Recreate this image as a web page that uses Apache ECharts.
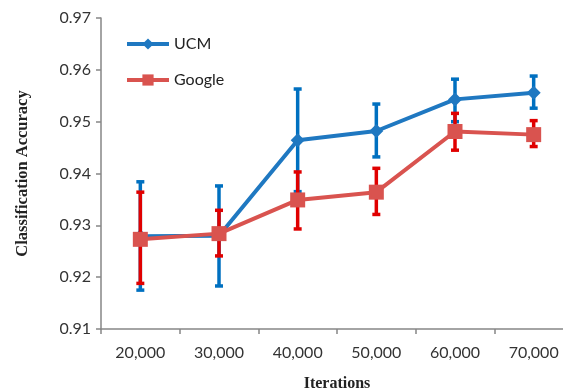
<!DOCTYPE html>
<html>
<head>
<meta charset="utf-8">
<script src="https://cdn.jsdelivr.net/npm/echarts@6/dist/echarts.min.js"></script>
<style>
  html, body { margin: 0; padding: 0; background: #fff; }
  #chart { width: 563px; height: 392px; }
</style>
</head>
<body>
<div id="chart"></div>
<script>
// 迭代次数
var iterations = ["20,000", "30,000", "40,000", "50,000", "60,000", "70,000"];
// UCM 准确率及误差范围
var ucmAcc = [0.9279, 0.9280, 0.9464, 0.9482, 0.9543, 0.9556];
var ucmLow = [0.9175, 0.9183, 0.9365, 0.9432, 0.9500, 0.9526];
var ucmHigh = [0.9384, 0.9376, 0.9563, 0.9534, 0.9582, 0.9588];
// Google 准确率及误差范围
var googleAcc = [0.9273, 0.9284, 0.9349, 0.9364, 0.9481, 0.9475];
var googleLow = [0.9188, 0.9241, 0.9293, 0.9321, 0.9445, 0.9452];
var googleHigh = [0.9364, 0.9329, 0.9403, 0.9410, 0.9516, 0.9502];

var ucmColor = "#1f78c1";
var ucmBarColor = "#0070c0";
var googleColor = "#d9534f";
var googleBarColor = "#e00000";

function errData(low, high) {
  return iterations.map(function (c, i) { return [i, low[i], high[i]]; });
}

function errBar(color) {
  return function (params, api) {
    var top = api.coord([api.value(0), api.value(2)]);
    var bot = api.coord([api.value(0), api.value(1)]);
    var w = 4;
    var st = { stroke: color, lineWidth: 3.5 };
    return {
      type: "group",
      children: [
        { type: "line", shape: { x1: top[0], y1: top[1], x2: bot[0], y2: bot[1] }, style: st },
        { type: "line", shape: { x1: top[0] - w, y1: top[1], x2: top[0] + w, y2: top[1] }, style: st },
        { type: "line", shape: { x1: bot[0] - w, y1: bot[1], x2: bot[0] + w, y2: bot[1] }, style: st }
      ]
    };
  };
}

var chart = echarts.init(document.getElementById("chart"));
var option = {
  animation: false,
  grid: { left: 101, right: -10, top: 18, bottom: 63, outerBoundsMode: "none", containLabel: false },
  legend: {
    orient: "vertical",
    left: 120,
    top: 31,
    itemWidth: 42,
    itemHeight: 14,
    itemGap: 20,
    data: ["UCM", "Google"],
    lineStyle: { width: 4 },
    textStyle: { fontFamily: "Lato", fontSize: 16, color: "#222" }
  },
  xAxis: {
    type: "category",
    data: iterations,
    boundaryGap: true,
    name: "Iterations",
    nameLocation: "middle",
    nameGap: 47,
    nameTextStyle: { fontFamily: "Liberation Serif", fontWeight: "bold", fontSize: 16, color: "#222" },
    axisLine: { lineStyle: { color: "#868686", width: 1.5 } },
    axisTick: { show: true, length: 5, lineStyle: { color: "#868686", width: 1.5 } },
    axisLabel: { fontFamily: "Lato", fontSize: 16, color: "#333", margin: 16 },
    splitLine: { show: false }
  },
  yAxis: {
    type: "value",
    min: 0.91,
    max: 0.97,
    interval: 0.01,
    name: "Classification Accuracy",
    nameLocation: "middle",
    nameGap: 70,
    nameTextStyle: { fontFamily: "Liberation Serif", fontWeight: "bold", fontSize: 16.5, color: "#222" },
    axisLine: { show: true, lineStyle: { color: "#868686", width: 1.5 } },
    axisTick: { show: true, length: 5, lineStyle: { color: "#868686", width: 1.5 } },
    axisLabel: {
      fontFamily: "Lato", fontSize: 16, color: "#333", margin: 10,
      formatter: function (v) { return v.toFixed(2); }
    },
    splitLine: { show: false }
  },
  series: [
    {
      name: "UCM",
      type: "line",
      data: ucmAcc,
      symbol: "diamond",
      symbolSize: 14,
      lineStyle: { color: ucmColor, width: 4 },
      itemStyle: { color: ucmColor },
      z: 2
    },
    {
      name: "UCM-err",
      type: "custom",
      data: errData(ucmLow, ucmHigh),
      renderItem: errBar(ucmBarColor),
      z: 2
    },
    {
      name: "Google-err",
      type: "custom",
      data: errData(googleLow, googleHigh),
      renderItem: errBar(googleBarColor),
      z: 3
    },
    {
      name: "Google",
      type: "line",
      data: googleAcc,
      symbol: "rect",
      symbolSize: 15,
      lineStyle: { color: googleColor, width: 4 },
      itemStyle: { color: googleColor },
      z: 4
    }
  ]
};
chart.setOption(option);
</script>
</body>
</html>
